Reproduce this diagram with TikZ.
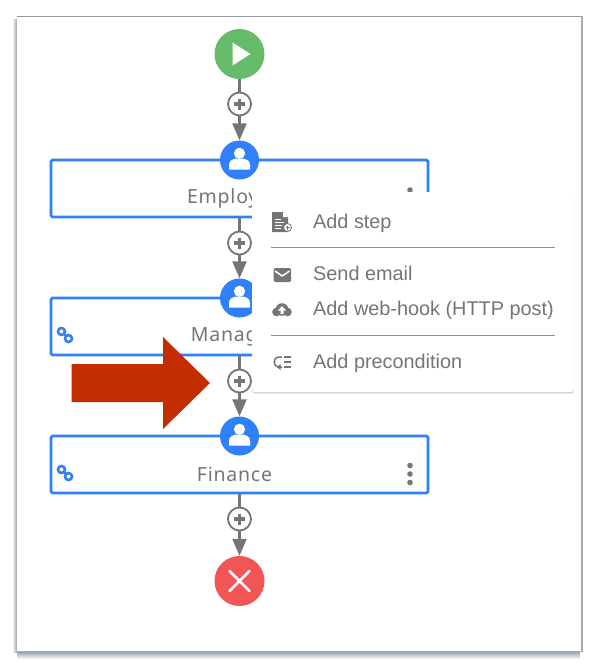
\documentclass[tikz,border=0pt]{standalone}
\usepackage{fontspec}
\setmainfont{Liberation Sans}
\newfontfamily\stepfont[LetterSpace=4]{Noto Sans}
\usetikzlibrary{arrows.meta}
\usetikzlibrary{positioning}
\usetikzlibrary{shadows}
\definecolor{flowgray}{HTML}{757575}
\definecolor{stepblue}{HTML}{2F80FA}
\definecolor{startgreen}{HTML}{66BB6A}
\definecolor{endred}{HTML}{F25555}
\definecolor{markred}{HTML}{C42D00}
\definecolor{framegray}{HTML}{8F9AA3}
\tikzset{
    flowline/.style={draw=flowgray,line width=2.2pt},
    flowarrow/.style={flowline,-{Triangle[length=17pt,width=14pt]}},
    plusnode/.style={circle,draw=flowgray,line width=1.8pt,fill=white,minimum size=23pt,inner sep=0pt},
    usernode/.style={circle,fill=stepblue,minimum size=39pt,inner sep=0pt},
    endnode/.style={circle,minimum size=50pt,inner sep=0pt},
    stepbox/.style={rectangle,rounded corners=1.5pt,draw=stepblue,line width=2.6pt,fill=white,minimum width=377pt,minimum height=57pt,inner sep=0pt},
    steplabel/.style={text=flowgray,font=\stepfont\fontsize{19.5}{21}\selectfont,inner sep=0pt},
    menutext/.style={text=flowgray,font=\fontsize{19.85}{21}\selectfont,anchor=base west,inner sep=0pt},
    plusmark/.pic={
        \draw[flowgray,line width=3.2pt] (-5.5,0) -- (5.5,0) (0,-5.5) -- (0,5.5);
    },
    usermark/.pic={
        \fill[white] (0,-6.7) circle (5.6);
        \fill[white] (-10.5,9.5) -- (-10.5,5) .. controls (-10.5,0) and (-6,-1) .. (-3.5,-1.5) -- (3.5,-1.5) .. controls (6,-1) and (10.5,0) .. (10.5,5) -- (10.5,9.5) -- cycle;
    },
    linkmark/.pic={
        \draw[stepblue,line width=2.6pt,rotate=-45] (-5,0) circle (3.5) (5,0) circle (3.5) (-2,0) -- (2,0);
    },
    dotsmark/.pic={
        \fill[flowgray] (0,0) circle (2.8) (0,8.5) circle (2.8) (0,17) circle (2.8);
    }
}
\begin{document}
\begin{tikzpicture}[x=1pt,y=-1pt]
    \useasboundingbox (0,0) rectangle (600,669);
    % frame
    \shade[left color=white,right color=framegray!90] (12,20) rectangle (17,652);
    \shade[top color=framegray!90,bottom color=white] (17,652) rectangle (580,659);
    \fill[white] (17,17) rectangle (581,651);
    \draw[framegray,line width=1.2pt] (17,16.5) -- (582,16.5);
    \draw[framegray!80,line width=1.8pt] (582,16.5) -- (582,651.5) -- (17,651.5);

    % steps
    \node[stepbox] (employee) at (239.5,188.5) {};
    \node[stepbox] (manager) at (239.5,326.5) {};
    \node[stepbox] (finance) at (239.5,464.5) {};
    \node[steplabel] (employeetext) at (234.5,198.5) {Employee};
    \node[steplabel] (managertext) at (234.5,336.5) {Manager};
    \node[steplabel] (financetext) at (234.5,474.5) {Finance};
    \pic at (410,190) {dotsmark};
    \pic at (65,335) {linkmark};
    \pic at (65,473) {linkmark};
    \pic at (410,465.5) {dotsmark};

    \node[endnode,fill=startgreen] (start) at (239.5,54) {};
    \node[plusnode] (plusa) at (239.5,104) {};
    \node[usernode] (usera) at (239.5,160) {};
    \node[plusnode] (plusb) at (239.5,243) {};
    \node[usernode] (userb) at (239.5,298) {};
    \node[plusnode] (plusc) at (239.5,381) {};
    \node[usernode] (userc) at (239.5,436) {};
    \node[plusnode] (plusd) at (239.5,519) {};
    \node[endnode,fill=endred] (stop) at (239.5,581) {};

    \draw[flowline] (start) -- (plusa);
    \draw[flowarrow] (plusa) -- (usera);
    \draw[flowline] (employee) -- (plusb);
    \draw[flowarrow] (plusb) -- (userb);
    \draw[flowline] (manager) -- (plusc);
    \draw[flowarrow] (plusc) -- (userc);
    \draw[flowline] (finance) -- (plusd);
    \draw[flowarrow] (plusd) -- (stop);

    \pic at (plusa) {plusmark};
    \pic at (plusb) {plusmark};
    \pic at (plusc) {plusmark};
    \pic at (plusd) {plusmark};
    \pic at (usera) {usermark};
    \pic at (userb) {usermark};
    \pic at (userc) {usermark};
    \fill[white] (232.5,42.5) -- (250.5,54) -- (232.5,65.5) -- cycle;
    \draw[white,line width=2.6pt,line cap=round] (229.5,571) -- (249.5,591) (249.5,571) -- (229.5,591);

    % red arrow
    \fill[markred] (71.5,364) -- (163,364) -- (163,337) -- (210,383) -- (163,429) -- (163,402) -- (71.5,402) -- cycle;

    % menu
    \node[rectangle,rounded corners=3pt,fill=white,minimum width=322pt,minimum height=200pt,inner sep=0pt,
          drop shadow={shadow xshift=0pt,shadow yshift=-1.5pt,opacity=.35}] (menu) at (413,292) {};
    \node[menutext] (addstep) at (313,228.5) {Add step};
    \node[menutext] (sendemail) at (313,280.5) {Send email};
    \node[menutext] (webhook) at (313,315.5) {Add web-hook (HTTP post)};
    \node[menutext] (precondition) at (313,368.5) {Add precondition};
    \draw[flowgray!80,line width=1pt] (271,247) -- (555,247);
    \draw[flowgray!80,line width=1pt] (271,335) -- (555,335);

    % menu icons
    \fill[flowgray] (272,212) -- (283,212) -- (288,217) -- (288,232) -- (272,232) -- cycle;
    \fill[white] (283,212) -- (283,217) -- (288,217) -- cycle;
    \draw[white,line width=.9pt] (274.5,219) -- (281,219) (274.5,222) -- (284,222) (274.5,225) -- (282,225) (274.5,228) -- (281,228);
    \draw[flowgray,fill=white,line width=.8pt] (287.5,227.5) circle (4);
    \draw[flowgray,line width=.7pt] (285.5,227.5) -- (289.5,227.5) (287.5,225.5) -- (287.5,229.5);
    \fill[flowgray,rounded corners=1.5pt] (273.5,268) rectangle (291,282);
    \draw[white,line width=1.5pt] (275,271) -- (282.25,276) -- (289.5,271);
    \fill[flowgray] (282,309.5) circle (6.3) (276.5,312) circle (4.3) (287.5,312) circle (4.3);
    \fill[white] (282,306) -- (286,310.5) -- (283.5,310.5) -- (283.5,314) -- (280.5,314) -- (280.5,310.5) -- (278,310.5) -- cycle;
    \draw[flowgray,line width=1.5pt] (282,357) -- (278,357) .. controls (273,357) and (273,367) .. (278,367) -- (282,367);
    \fill[flowgray] (277,367) -- (280.5,364) -- (280.5,370) -- cycle;
    \draw[flowgray,line width=1.5pt] (284,357) -- (291,357) (284,362) -- (291,362) (284,367) -- (291,367);
\end{tikzpicture}
\end{document}
